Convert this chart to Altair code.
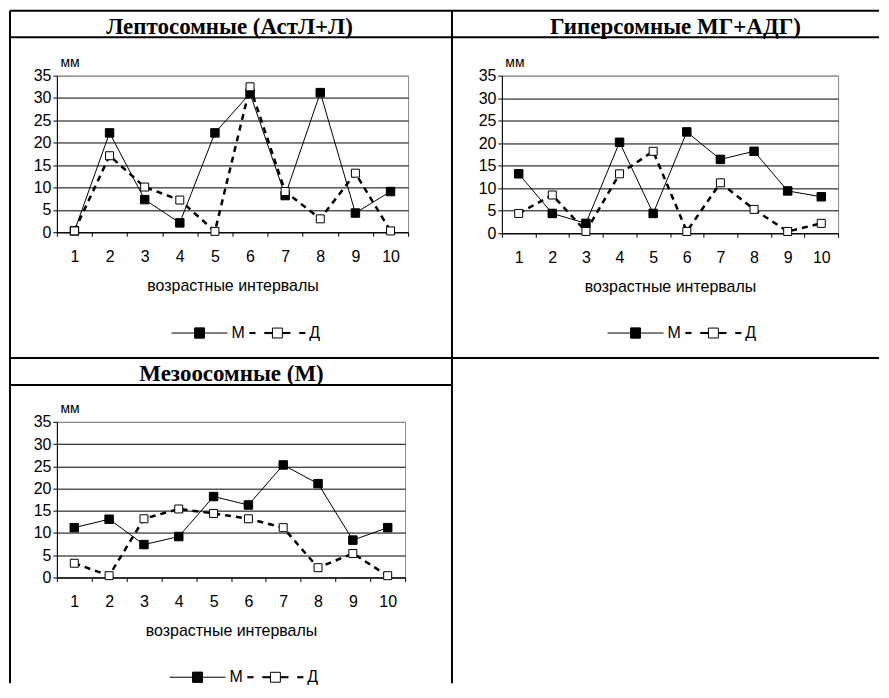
import altair as alt
import pandas as pd

# ---------------- data ----------------
intervals = list(range(1, 11))
series_names = ["М", "Д"]

lepto_m = [0.3, 22.2, 7.3, 2.1, 22.2, 31.0, 8.2, 31.2, 4.3, 9.1]
lepto_d = [0.3, 17.1, 10.1, 7.2, 0.2, 32.5, 9.1, 3.0, 13.2, 0.3]
hyper_m = [13.2, 4.4, 2.2, 20.2, 4.4, 22.5, 16.4, 18.2, 9.4, 8.1]
hyper_d = [4.4, 8.5, 0.4, 13.2, 18.2, 0.4, 11.2, 5.3, 0.4, 2.2]
meso_m = [11.2, 13.1, 7.4, 9.2, 18.2, 16.3, 25.3, 21.1, 8.4, 11.2]
meso_d = [3.2, 0.4, 13.2, 15.4, 14.4, 13.2, 11.2, 2.2, 5.4, 0.4]

titles = ["Лептосомные (АстЛ+Л)", "Гиперсомные МГ+АДГ)", "Мезоосомные (М)"]
y_ticks = [0, 5, 10, 15, 20, 25, 30, 35]
x_title = "возрастные интервалы"
y_title = "мм"

SANS = "Liberation Sans"
SERIF = "Liberation Serif"

# legend glyphs (unit = 7 px): line with a marker square in the middle
_sq = "M-0.71,-0.71H0.71V0.71H-0.71Z"
_hatch = "".join("M-0.71,%.3fH0.71" % (-0.71 + i * 0.071) for i in range(21))
PATH_M = "M-4,0H-0.71M0.71,0H4" + _sq + _hatch
_dashes = [(-4, -3.14), (-1.86, -0.71), (0.71, 1.86), (3.14, 4)]
PATH_D = "".join("M%.2f,%.2fH%.2f" % (a, yy, b) for a, b in _dashes for yy in (-0.08, 0.0, 0.08)) + _sq

one = pd.DataFrame({"k": [0]})


def rule(x1, y1, x2, y2):
    return alt.Chart(one).mark_rule(color="black", strokeWidth=2).encode(
        x=alt.value(x1), x2=alt.value(x2), y=alt.value(y1), y2=alt.value(y2)
    )


def panel(title, m, d, w, h, tx, ty, lx, ly, extra=()):
    df = pd.DataFrame({
        "interval": intervals + intervals,
        "series": [series_names[0]] * len(m) + [series_names[1]] * len(d),
        "value": m + d,
    })
    base = alt.Chart(df)
    x = alt.X(
        "interval:O",
        scale=alt.Scale(type="band", paddingInner=0, paddingOuter=0),
        axis=alt.Axis(
            title=x_title, labelAngle=0, tickBand="extent", tickSize=4,
            tickColor="black", domainColor="black", labelColor="black",
            labelFont=SANS, labelFontSize=16, labelPadding=12,
            titleFont=SANS, titleFontSize=16, titleFontWeight="normal",
            titleColor="black", titlePadding=13, grid=False,
        ),
    )
    y = alt.Y(
        "value:Q",
        scale=alt.Scale(domain=[0, 35], nice=False),
        axis=alt.Axis(
            values=y_ticks, title=y_title, titleAngle=0, titleAlign="left",
            titleBaseline="alphabetic", titleX=3, titleY=-9, titleFont=SANS,
            titleFontSize=14, titleFontWeight="normal", titleColor="black",
            labelFont=SANS, labelFontSize=16, labelColor="black", labelPadding=2,
            tickSize=4, tickColor="black", domainColor="black",
            grid=True, gridWidth=1, gridOpacity=1,
            gridColor={"condition": {"test": "datum.value === 35", "value": "#888888"},
                       "value": "black"},
        ),
    )
    m_only = base.transform_filter(alt.datum.series == series_names[0])
    d_only = base.transform_filter(alt.datum.series == series_names[1])
    line_m = m_only.mark_line(color="black", strokeWidth=1).encode(x=x, y=y)
    line_d = d_only.mark_line(color="black", strokeWidth=2.5,
                              strokeDash=[6, 5]).encode(x=x, y=y)
    pts_m = m_only.mark_point(shape="square", size=72, filled=True, fill="black",
                              stroke="black", strokeWidth=1, opacity=1).encode(x=x, y=y)
    pts_d = d_only.mark_point(shape="square", size=64, filled=True, fill="white",
                              stroke="black", strokeWidth=1, opacity=1).encode(x=x, y=y)
    leg = base.mark_point(opacity=0, size=1).encode(
        x=x, y=y,
        shape=alt.Shape(
            "series:N",
            scale=alt.Scale(domain=series_names, range=[PATH_M, PATH_D]),
            legend=alt.Legend(
                title=None, orient="none", legendX=lx, legendY=ly,
                direction="horizontal", symbolSize=196,
                symbolStrokeColor="black", symbolStrokeWidth=1, symbolOpacity=1,
                symbolFillColor="white",
                labelFont=SANS, labelFontSize=16, labelColor="black",
                labelOffset=24, columnPadding=2, padding=0,
            ),
        ),
    )
    ttl = alt.Chart(one).mark_text(
        text=title, font=SERIF, fontWeight="bold", fontSize=23, color="black",
        align="center", baseline="alphabetic",
    ).encode(x=alt.value(tx), y=alt.value(ty))
    return alt.layer(*extra, line_m, line_d, pts_m, pts_d, leg, ttl).properties(
        width=w, height=h)


# table frame (drawn from the first cell)
frame = [
    rule(-47, -65, 824, -65),
    rule(-47, -38.5, 824, -38.5),
    rule(-47, 283, 824, 283),
    rule(-47, 310, 396, 310),
    rule(-47, -65, -47, 609),
    rule(396, -65, 396, 609),
]

a = panel(titles[0], lepto_m, lepto_d, 352, 157, 173, -42, 135, 250, frame)
b = panel(titles[1], hyper_m, hyper_d, 337, 158, 174, -42, 126, 250)
c = panel(titles[2], meso_m, meso_d, 349, 156, 175, -41, 133, 248)

chart = alt.concat(a, b, c, columns=2, spacing={"row": 189, "column": 94},
                   bounds="flush").resolve_scale(
    shape="independent", x="independent", y="independent"
).resolve_legend(shape="independent").properties(padding=0).configure_view(
    stroke="#888888", strokeWidth=1
)

chart.save("out.html", embed_options={"renderer": "svg", "actions": False})
